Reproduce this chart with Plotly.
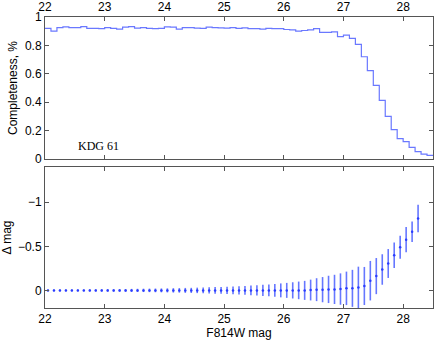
import plotly.graph_objects as go

# ---- data ----
bin_starts = [round(22.0 + 0.1 * i, 2) for i in range(65)]
completeness = [
    0.920, 0.900, 0.925, 0.930, 0.925, 0.925, 0.932, 0.920, 0.920, 0.918,
    0.925, 0.920, 0.915, 0.928, 0.932, 0.922, 0.925, 0.920, 0.918, 0.920,
    0.930, 0.928, 0.915, 0.925, 0.925, 0.922, 0.920, 0.928, 0.925, 0.924,
    0.922, 0.925, 0.920, 0.924, 0.918, 0.918, 0.915, 0.920, 0.918, 0.918,
    0.912, 0.910, 0.900, 0.905, 0.910, 0.918, 0.892, 0.892, 0.895, 0.862,
    0.873, 0.850, 0.807, 0.720, 0.622, 0.519, 0.413, 0.300, 0.207, 0.143,
    0.122, 0.082, 0.052, 0.035, 0.026,
]
bin_end = 28.5

mag_points = [round(22.05 + 0.1 * i, 2) for i in range(63)]
delta_mag = [0.0] * 44 + [
    -0.004, -0.008, -0.008, -0.011, -0.011, -0.015, -0.023, -0.023, -0.034,
    -0.050, -0.110, -0.162, -0.237, -0.305, -0.399, -0.489, -0.575, -0.666, -0.817,
]
delta_err = [
    0.008, 0.009, 0.009, 0.010, 0.010, 0.011, 0.011, 0.012, 0.012, 0.013,
    0.014, 0.014, 0.015, 0.016, 0.017, 0.018, 0.019, 0.020, 0.021, 0.022,
    0.023, 0.025, 0.026, 0.028, 0.029, 0.031, 0.033, 0.035,
    0.037, 0.039, 0.042, 0.045, 0.048, 0.051, 0.055, 0.059, 0.063, 0.068,
    0.073, 0.079, 0.085, 0.092, 0.100, 0.108, 0.118, 0.130, 0.143, 0.155,
    0.166, 0.178, 0.190, 0.210, 0.235, 0.216, 0.224, 0.205, 0.173, 0.164,
    0.145, 0.130, 0.143, 0.117, 0.156,
]
x_ticks = [22, 23, 24, 25, 26, 27, 28]
top_y_ticks = [0, 0.2, 0.4, 0.6, 0.8, 1]
bot_y_ticks = [-1, -0.5, 0]
label_text = "KDG 61"

# ---- figure ----
step_x = bin_starts + [bin_end]
step_y = completeness + [completeness[-1]]

fig = go.Figure()
fig.add_trace(go.Scatter(
    x=step_x, y=step_y, mode="lines", line=dict(shape="hv", color="#6a78ff", width=1.2),
    xaxis="x", yaxis="y", showlegend=False, hoverinfo="skip"))
fig.add_trace(go.Scatter(
    x=mag_points, y=delta_mag, mode="markers",
    marker=dict(color="#2a3cff", size=2.5),
    error_y=dict(type="data", array=delta_err, visible=True, width=0,
                 thickness=1.6, color="#6677ff"),
    xaxis="x2", yaxis="y2", showlegend=False))

font = dict(family="Liberation Sans, Arial, sans-serif", size=12, color="#000")
axis_common = dict(showline=True, linecolor="#555", linewidth=1, mirror="ticks",
                   ticks="inside", ticklen=4, tickcolor="#555", showgrid=False,
                   zeroline=False, tickfont=font, automargin=False)

fig.update_layout(
    width=436, height=340,
    margin=dict(l=45, r=3, t=17, b=32),
    paper_bgcolor="white", plot_bgcolor="white",
    font=font,
    xaxis=dict(domain=[0, 1], range=[22, 28.5], tickvals=x_ticks, side="top",
               anchor="y", **axis_common),
    yaxis=dict(domain=[0.512, 1], range=[0, 1], tickvals=top_y_ticks, anchor="x",
               title=dict(text="Completeness, %", font=font, standoff=4),
               **axis_common),
    xaxis2=dict(domain=[0, 1], range=[22, 28.5], tickvals=x_ticks, anchor="y2",
                title=dict(text="F814W mag", font=font, standoff=0),
                **axis_common),
    yaxis2=dict(domain=[0, 0.4845], range=[0.2, -1.4], tickvals=bot_y_ticks,
                anchor="x2", title=dict(text="Δ mag", font=font, standoff=4),
                **axis_common),
    annotations=[dict(x=22.52, y=0.09, xref="x", yref="y", text=label_text,
                      showarrow=False, xanchor="left", yanchor="middle",
                      font=dict(family="Liberation Serif, Times New Roman, serif",
                                size=12, color="#000"))],
)

fig.write_html("out.html",
               config={"displayModeBar": False},
               post_script="document.body.style.margin='0';document.body.style.overflow='hidden';")
